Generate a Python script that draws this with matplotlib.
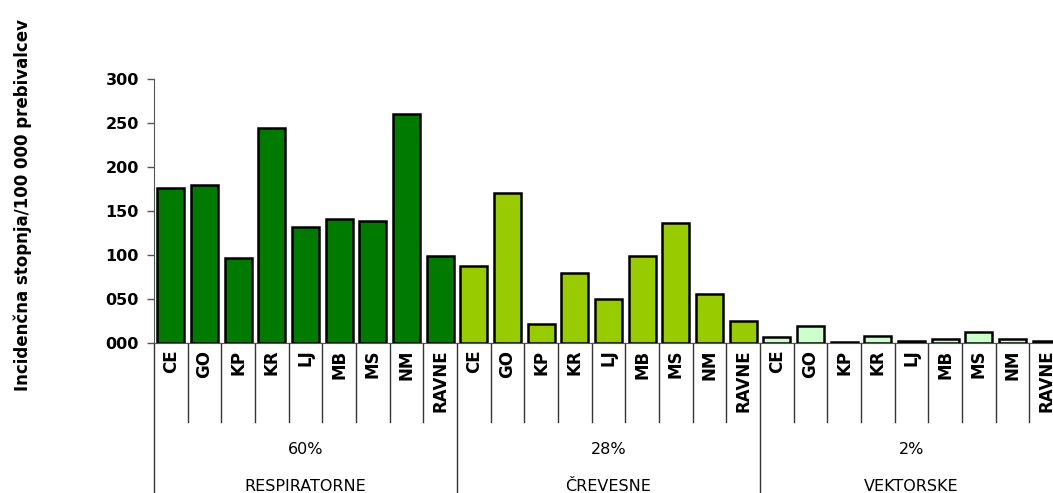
import numpy as np
import matplotlib.pyplot as plt
import matplotlib.transforms as mtransforms

# Incidenca po območjih, tri skupine nalezljivih bolezni
regije = ['CE', 'GO', 'KP', 'KR', 'LJ', 'MB', 'MS', 'NM', 'RAVNE']
skupine = ['RESPIRATORNE', 'ČREVESNE', 'VEKTORSKE']
deleži = ['60%', '28%', '2%']
respiratorne = [176, 179, 97, 244, 132, 141, 139, 260, 99]
crevesne = [88, 170, 21, 79, 50, 99, 136, 56, 25]
vektorske = [6.5, 19.5, 1, 8, 2.3, 4, 12, 4, 2]
barve = ['#007A00', '#99CC00', '#CCFFCC']

plt.rcParams['font.family'] = ['DejaVu Sans']

fig = plt.figure(figsize=(10.53, 4.93), dpi=100)
# os sega čez desni rob slike
ax = fig.add_axes([0.1463, 0.3043, 0.8631, 0.5355])

n = len(regije)
podatki = [respiratorne, crevesne, vektorske]
for g, (vrednosti, barva) in enumerate(zip(podatki, barve)):
    x = np.arange(n) + g * n
    ax.bar(x, vrednosti, width=0.8, color=barva, edgecolor='black', linewidth=1.8, zorder=3)

ax.set_xlim(-0.5, 3 * n - 0.5)
ax.set_ylim(0, 300)
ax.set_yticks(np.arange(0, 301, 50))
ax.set_yticklabels(['%03d' % v for v in range(0, 301, 50)], fontsize=11.5, fontweight='bold')
ax.tick_params(axis='y', direction='out', length=5, width=1, color='#555555', pad=6)
ax.set_xticks([])
for s in ['top', 'right']:
    ax.spines[s].set_visible(False)
ax.spines['left'].set_color('#555555')
ax.spines['bottom'].set_color('#555555')

trans = mtransforms.blended_transform_factory(ax.transData, ax.transAxes)
linija = dict(color='#333333', linewidth=1, transform=trans, clip_on=False)

# oznake regij in ločilne črte pod osjo
for g in range(3):
    for i, r in enumerate(regije):
        xi = g * n + i
        ax.text(xi, -0.025, r, rotation=90, ha='center', va='top', fontsize=12,
                fontweight='bold', transform=trans)
        if i > 0:
            ax.plot([xi - 0.5, xi - 0.5], [0, -0.30], **linija)
    x0 = g * n - 0.5
    ax.plot([x0, x0], [0, -0.60], **linija)
    sredina = g * n + (n - 1) / 2
    ax.text(sredina, -0.405, deleži[g], ha='center', va='center', fontsize=11.5, transform=trans)
    ax.text(sredina, -0.545, skupine[g], ha='center', va='center', fontsize=11.5, transform=trans)

fig.text(0.022, 0.585, 'Incidenčna stopnja/100 000 prebivalcev', rotation=90,
         ha='center', va='center', fontsize=12, fontweight='bold')

fig.savefig('out.png', dpi=100)
